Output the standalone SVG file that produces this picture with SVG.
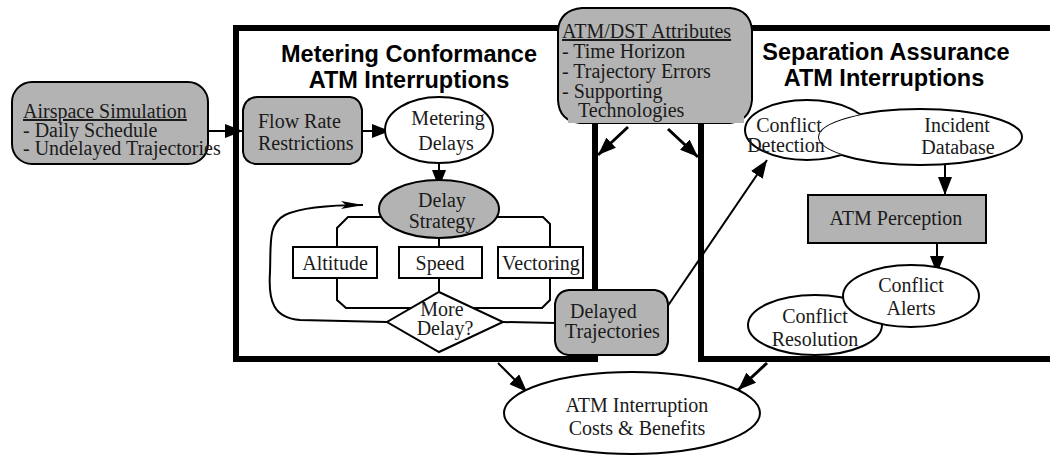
<svg xmlns="http://www.w3.org/2000/svg" width="1050" height="456" viewBox="0 0 1050 456">
<defs>
<marker id="ah" markerUnits="userSpaceOnUse" markerWidth="20" markerHeight="14" refX="18" refY="7" orient="auto">
<path d="M0,0 L18,7 L0,14 Z" fill="#000"/>
</marker>
<marker id="ahs" markerUnits="userSpaceOnUse" markerWidth="24" markerHeight="12" refX="22" refY="6" orient="auto">
<path d="M0,2 L22,6 L0,10 L5,6 Z" fill="#000"/>
</marker>
<clipPath id="outsideIncident">
<path clip-rule="evenodd" d="M0,0 H1050 V456 H0 Z M818,137 A102,28 0 1,0 1022,137 A102,28 0 1,0 818,137 Z"/>
</clipPath>
<style>
.t{font-family:"Liberation Serif","Times New Roman",serif;font-size:20px;fill:#1a1a1a}
.h{font-family:"Liberation Sans",Arial,sans-serif;font-size:23.5px;font-weight:bold;fill:#000;text-anchor:middle}
.c{text-anchor:middle}
.g{fill:#b3b3b3;stroke:#000;stroke-width:2}
.w{fill:#fff;stroke:#000;stroke-width:2}
.frame{fill:none;stroke:#000;stroke-width:6}
.ln{fill:none;stroke:#000;stroke-width:2}
.ar{fill:none;stroke:#000;stroke-width:2;marker-end:url(#ah)}
.ar3{fill:none;stroke:#000;stroke-width:3;marker-end:url(#ah)}
</style>
</defs>
<rect width="1050" height="456" fill="#fff"/>

<g id="frames">
<rect class="frame" x="236" y="28" width="359" height="331"/>
<path class="frame" d="M1056,28 L701,28 L701,359 L1056,359"/>
<text class="h" x="409" y="62">Metering Conformance</text>
<text class="h" x="409" y="88">ATM Interruptions</text>
<text class="h" x="886" y="60">Separation Assurance</text>
<text class="h" x="884" y="86">ATM Interruptions</text>
</g>

<g id="connectors">
<path class="ar" d="M208,131 L243,131"/>
<path class="ar" d="M362,131 L390,131"/>
<path class="ar" d="M439,163 L439,188"/>
<path class="ln" d="M337,247 L337,228 L348,217 L543,217 L550,224 L550,247"/>
<path class="ln" d="M337,278 L337,300 L346,308 L542,308 L550,300 L550,278"/>
<path class="ln" d="M439,238 L439,247 M439,278 L439,292"/>
<path fill="none" stroke="#000" stroke-width="2" marker-end="url(#ahs)" d="M387,322 L300,320 C274,318 268,302 270,272 C271,242 268,224 285,215 C302,207 330,205 363,205"/>
<path class="ln" d="M503,322 L556,323"/>
<path class="ar" stroke-width="1.5" d="M665,310 L767,160"/>
<path class="ar3" d="M628,127 L598,155"/>
<path class="ar3" d="M668,129 L698,157"/>
<path class="ar" d="M945,165 L945,195"/>
<path class="ar" d="M937,243 L937,274"/>
<path class="ar" stroke-width="1.5" d="M498,363 L527,392"/>
<path class="ar3" d="M767,363 L738,390"/>
</g>

<g id="airspace">
<rect class="g" x="12" y="82" width="196" height="82" rx="20"/>
<text class="t" x="23" y="118" font-size="18.5" text-decoration="underline">Airspace Simulation</text>
<text class="t" x="23" y="137" font-size="18.5">- Daily Schedule</text>
<text class="t" x="23" y="155" font-size="18.5">- Undelayed Trajectories</text>
</g>

<g id="flowrate">
<path class="g" d="M257,97 L350,97 Q360,98 362,110 L362,152 Q361,162 350,164 L255,164 Q244,162 243,152 L243,110 Q245,98 257,97 Z"/>
<text class="t" x="258" y="128">Flow Rate</text>
<text class="t" x="258" y="150">Restrictions</text>
</g>

<g id="meteringdelays">
<ellipse class="w" cx="439" cy="130" rx="54" ry="33"/>
<text class="t c" x="448" y="125">Metering</text>
<text class="t c" x="446" y="150">Delays</text>
</g>

<g id="delaystrategy">
<ellipse class="g" cx="439" cy="209" rx="60" ry="29"/>
<text class="t c" x="442" y="207">Delay</text>
<text class="t c" x="442" y="228">Strategy</text>
</g>

<g id="altitude">
<rect class="w" x="293" y="247" width="84" height="31"/>
<text class="t c" x="335" y="270">Altitude</text>
</g>
<g id="speed">
<rect class="w" x="399" y="247" width="83" height="31"/>
<text class="t c" x="440" y="270">Speed</text>
</g>
<g id="vectoring">
<rect class="w" x="498" y="247" width="85" height="31"/>
<text class="t c" x="541" y="270">Vectoring</text>
</g>

<g id="moredelay">
<path class="w" d="M439,292 L503,322 L439,352 L387,322 Z"/>
<text class="t c" x="442" y="316" font-size="16">More</text>
<text class="t c" x="445" y="335" font-size="16">Delay?</text>
</g>

<g id="delayedtraj">
<path class="g" d="M569,290 L655,290 Q667,292 668,304 L668,342 Q666,354 655,355 L568,355 Q556,353 555,341 L555,304 Q557,291 569,290 Z"/>
<text class="t" x="570" y="318" font-size="18.5">Delayed</text>
<text class="t" x="565" y="338" font-size="18.5">Trajectories</text>
</g>

<g id="attributes">
<path class="g" d="M582,8 L730,8 Q750,10 752,30 L752,100 Q750,121 730,123 L580,123 Q559,121 558,100 L558,30 Q560,10 582,8 Z"/>
<rect x="568" y="104" width="176" height="19" fill="#b3b3b3"/>
<text class="t" x="562" y="38" font-size="20.5" text-decoration="underline">ATM/DST Attributes</text>
<text class="t" x="562" y="58" font-size="20.5">- Time Horizon</text>
<text class="t" x="562" y="78" font-size="20.5">- Trajectory Errors</text>
<text class="t" x="562" y="98" font-size="20.5">- Supporting</text>
<text class="t" x="578" y="117" font-size="20.5">Technologies</text>
</g>

<g id="incident">
<ellipse class="w" cx="920" cy="137" rx="102" ry="28"/>
<text class="t c" x="957" y="132" font-size="21">Incident</text>
<text class="t c" x="958" y="154" font-size="21">Database</text>
</g>

<g id="conflictdetection">
<ellipse class="w" cx="807" cy="130" rx="62" ry="30" clip-path="url(#outsideIncident)"/>
<text class="t c" x="789" y="132">Conflict</text>
<text class="t c" x="786" y="152">Detection</text>
</g>

<g id="perception">
<rect class="g" x="808" y="195" width="178" height="48"/>
<text class="t c" x="896" y="225" font-size="21">ATM Perception</text>
</g>

<g id="resolution">
<ellipse class="w" cx="815" cy="325" rx="67" ry="30"/>
<text class="t c" x="815" y="323" font-size="22">Conflict</text>
<text class="t c" x="815" y="346" font-size="22">Resolution</text>
</g>

<g id="alerts">
<ellipse class="w" cx="911" cy="296" rx="68" ry="31"/>
<text class="t c" x="911" y="292" font-size="22">Conflict</text>
<text class="t c" x="911" y="315" font-size="22">Alerts</text>
</g>

<g id="costs">
<ellipse class="w" cx="632" cy="413" rx="128" ry="41"/>
<text class="t c" x="637" y="412" font-size="22">ATM Interruption</text>
<text class="t c" x="637" y="435" font-size="22">Costs &amp; Benefits</text>
</g>
</svg>
